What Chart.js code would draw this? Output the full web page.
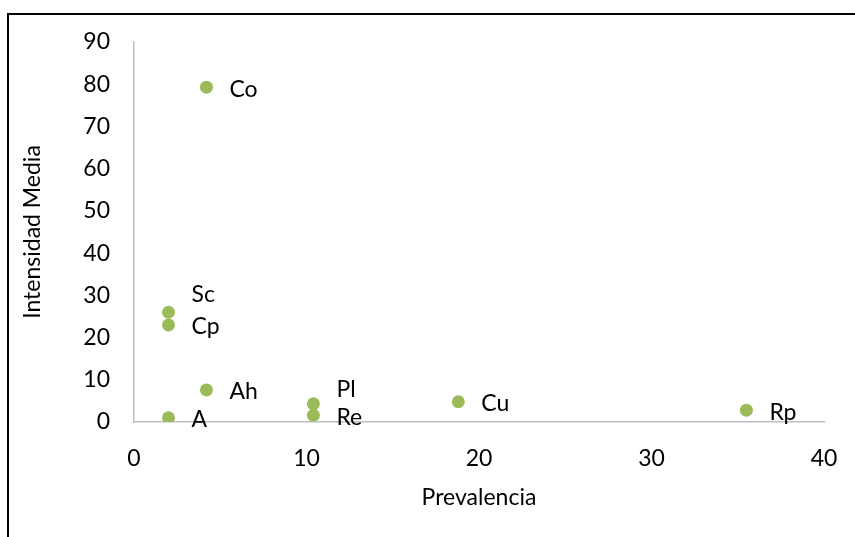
<!DOCTYPE html>
<html>
<head>
<meta charset="utf-8">
<script src="https://cdn.jsdelivr.net/npm/chart.js@4"></script>
<style>
  html, body { margin: 0; padding: 0; background: #fff; }
  #marco { position: absolute; left: 0; top: 0; width: 855px; height: 537px; }
  #borde { position: absolute; left: 7px; top: 13px; right: 0; bottom: 0;
           border-top: 2px solid #000; border-left: 2px solid #000; }
  canvas { position: absolute; left: 0; top: 0; }
</style>
</head>
<body>
<div id="marco">
  <div id="borde"></div>
  <canvas id="grafico" width="855" height="537"></canvas>
</div>
<script>
// Datos
const etiquetas   = ['Co', 'Sc', 'Cp', 'Ah', 'A', 'Pl', 'Re', 'Cu', 'Rp'];
const prevalencia = [4.2, 2.0, 2.0, 4.2, 2.0, 10.4, 10.4, 18.8, 35.5];
const intensidad  = [79.3, 26.0, 23.0, 7.6, 1.0, 4.3, 1.6, 4.8, 2.8];
const ticksX = [0, 10, 20, 30, 40];
const ticksY = [0, 10, 20, 30, 40, 50, 60, 70, 80, 90];

// desplazamiento vertical de cada etiqueta (como en Excel)
const ajusteEtiqueta = { Sc: -18, Pl: -14 };

const fuente = 'Lato';
const tam = 23;

const pluginEtiquetas = {
    id: 'etiquetas',
    afterDatasetsDraw(chart) {
        const ctx = chart.ctx;
        const meta = chart.getDatasetMeta(0);
        ctx.save();
        ctx.font = tam + 'px ' + fuente;
        ctx.fillStyle = '#000';
        ctx.textBaseline = 'middle';
        ctx.textAlign = 'left';
        meta.data.forEach((p, i) => {
            const nombre = etiquetas[i];
            const dy = ajusteEtiqueta[nombre] !== undefined ? ajusteEtiqueta[nombre] : 2;
            ctx.fillText(nombre, p.x + 23, p.y + dy);
        });
        ctx.restore();
    }
};

const puntos = prevalencia.map((x, i) => ({ x: x, y: intensidad[i] }));

new Chart(document.getElementById('grafico'), {
    type: 'scatter',
    data: {
        datasets: [{
            data: puntos,
            backgroundColor: '#9BBB59',
            borderColor: '#9BBB59',
            pointRadius: 6.5,
            pointHoverRadius: 6.5,
            borderWidth: 0
        }]
    },
    options: {
        responsive: false,
        animation: false,
        events: [],
        layout: { padding: { top: 42, right: 31, left: 0, bottom: 0 } },
        plugins: { legend: { display: false }, tooltip: { enabled: false } },
        scales: {
            x: {
                type: 'linear', min: 0, max: 40,
                afterBuildTicks: s => { s.ticks = ticksX.map(v => ({ value: v })); },
                afterFit: s => { s.height = 115; s.paddingLeft = 0; s.paddingRight = 0; },
                grid: { display: false, drawTicks: false },
                border: { color: '#BFBFBF', width: 1.5 },
                ticks: { color: '#000', padding: 23, font: { family: fuente, size: tam } },
                title: { display: true, text: 'Prevalencia', color: '#000',
                         font: { family: fuente, size: tam }, padding: { bottom: 26 } }
            },
            y: {
                type: 'linear', min: 0, max: 90,
                afterBuildTicks: s => { s.ticks = ticksY.map(v => ({ value: v })); },
                afterFit: s => { s.width = 134; s.paddingTop = 0; s.paddingBottom = 0; },
                grid: { display: false, drawTicks: false },
                border: { color: '#BFBFBF', width: 1.5 },
                ticks: { color: '#000', padding: 24, font: { family: fuente, size: tam } },
                title: { display: true, text: 'Intensidad Media', color: '#000',
                         font: { family: fuente, size: tam }, padding: { top: 19 } }
            }
        }
    },
    plugins: [pluginEtiquetas]
});
</script>
</body>
</html>
